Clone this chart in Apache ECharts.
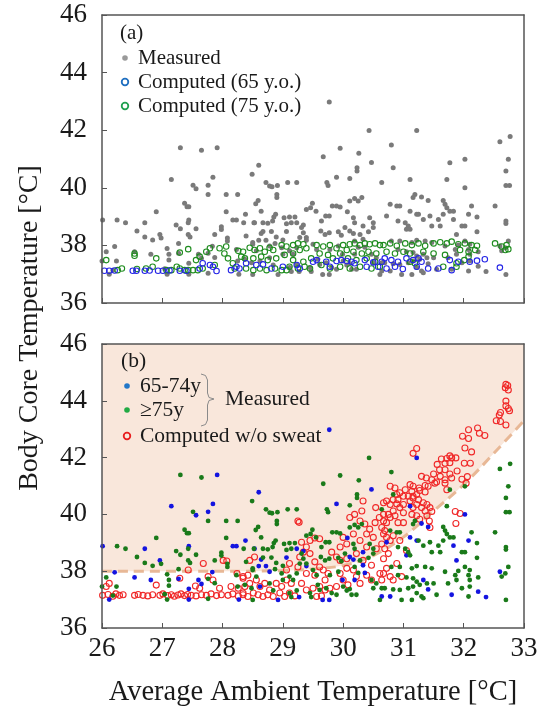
<!DOCTYPE html>
<html><head><meta charset="utf-8">
<script src="https://cdn.jsdelivr.net/npm/echarts@6/dist/echarts.min.js"></script>
<style>html,body{margin:0;padding:0;background:#fff}#c{width:549px;height:708px}</style>
</head><body><div id="c"></div>
<script>
// ---------------- data ----------------
const xRange = [26, 33];
const yRange = [36, 46];

// Measured, 65-74 years
const measured6574 = [
[27.91,41.39],[27.15,40.29],[27.56,39.97],[27.84,40.37],[27.76,40.09],[26.01,38.88],[26.71,38.79],[27.44,38.88],[28.17,38.88],[28.23,38.88],[26.96,38.38],[26.21,37.96],[26.54,37.78],[26.81,37.69],[27.27,37.73],[27.44,37.38],[27.60,37.69],[27.65,37.55],[27.83,37.97],[26.12,37.00],[27.44,37.00],[28.27,37.00],
[29.77,42.98],[30.47,40.88],[28.60,40.78],[29.89,40.37],[28.38,39.08],[28.53,38.79],[29.23,38.79],[30.07,39.17],[30.33,38.67],[28.64,38.41],[28.60,38.18],[28.72,38.18],[29.06,38.48],[29.34,38.71],[29.39,38.18],[30.11,38.50],[30.17,38.41],[30.33,38.21],[30.36,37.94],[29.99,37.69],[28.78,37.98],[28.62,37.46],[29.27,37.09],[29.66,36.99],[29.77,36.99],[30.19,37.69],[30.64,37.11],[28.92,36.99],
[31.22,41.99],[32.02,40.00],[31.11,40.29],[31.30,39.68],[31.41,39.56],[32.08,39.08],[31.83,38.90],[31.11,39.19],[31.22,39.08],[30.72,39.02],[31.05,38.56],[31.88,38.38],[32.60,37.98],[31.33,37.69],[31.41,37.36],[31.80,37.17],[32.24,37.28],[32.37,37.09],[30.78,37.11]
];

// Measured, >=75 years
const measured75 = [
[27.30,41.39],[27.65,41.30],[27.51,40.09],[27.76,39.77],[28.06,39.77],[28.25,39.77],[27.37,39.46],[27.41,39.34],[27.44,39.34],[26.90,39.17],[26.25,38.88],[26.39,38.79],[27.43,38.79],[28.06,39.17],[27.23,38.71],[27.30,38.58],[26.58,38.50],[26.71,38.29],[26.84,38.19],[26.98,38.26],[27.43,38.38],[27.46,38.29],[27.56,38.58],[27.87,38.38],[27.98,38.65],[27.98,38.55],[28.08,38.26],[28.08,38.15],[27.27,38.07],[26.07,37.78],[26.24,37.46],[27.08,37.89],[27.11,37.69],[27.11,37.49],[27.04,37.19],[27.76,37.73],[27.87,37.58],[28.23,37.86],[28.25,37.46],[26.00,37.46],[27.08,37.00],[27.76,37.03],[26.18,37.14],
[30.43,41.99],[29.95,41.37],[29.67,41.08],[30.26,41.20],[28.49,40.47],[28.72,40.18],[28.78,40.06],[28.82,40.04],[28.91,40.08],[29.08,40.18],[29.23,40.18],[28.90,39.77],[28.90,39.66],[29.73,40.18],[29.75,40.08],[29.49,39.46],[30.11,40.32],[30.23,40.70],[30.23,40.58],[28.59,39.56],[28.55,39.45],[28.64,39.19],[28.85,38.99],[28.88,39.08],[28.83,38.85],[28.35,38.79],[28.52,38.79],[28.67,38.79],[28.75,38.77],[28.67,38.48],[28.81,38.48],[29.02,38.96],[29.11,38.99],[29.20,38.99],[29.14,38.79],[29.06,38.75],[29.39,39.25],[29.46,39.31],[29.55,39.19],[29.82,39.37],[29.89,39.37],[29.95,39.33],[29.71,39.02],[29.77,39.02],[29.64,38.85],[30.11,39.54],[30.19,39.63],[30.25,39.54],[30.31,39.66],[30.17,38.96],[30.19,38.79],[30.44,38.96],[30.50,38.79],[28.39,38.33],[28.50,38.10],[28.89,38.29],[29.00,38.19],[28.87,38.07],[29.31,38.62],[29.34,38.44],[29.28,38.27],[29.39,38.27],[29.63,38.50],[29.70,38.38],[29.77,38.44],[29.92,38.47],[29.97,38.35],[30.03,38.62],[30.28,38.38],[30.42,38.47],[30.50,38.62],[30.19,38.15],[30.25,37.94],[29.92,37.98],[29.78,37.86],[29.50,38.04],[29.56,37.86],[29.23,37.92],[29.11,37.81],[29.17,37.69],[28.98,37.92],[29.00,37.69],[28.50,38.04],[28.56,37.81],[28.37,37.52],[28.48,37.40],[28.78,37.57],[28.84,37.32],[29.11,37.23],[29.14,37.09],[29.23,37.32],[29.45,37.23],[29.47,37.09],[29.58,37.52],[29.61,37.34],[29.72,37.40],[29.81,37.23],[29.89,37.17],[30.00,37.46],[30.06,37.32],[30.11,37.37],[30.14,37.17],[30.22,37.17],[30.47,37.69],[30.55,37.57],[30.50,37.40],[30.61,36.99],[28.50,36.99],
[30.80,41.49],[32.60,41.60],[32.77,41.78],[32.74,40.99],[32.70,40.58],[32.70,40.08],[32.76,40.08],[31.77,40.87],[32.02,40.99],[31.72,40.29],[31.19,39.77],[31.16,39.66],[30.64,40.18],[30.83,40.70],[31.66,39.56],[31.69,39.43],[31.72,39.31],[31.77,39.19],[31.83,39.19],[32.13,39.37],[32.52,39.37],[32.22,38.99],[32.70,38.85],[32.70,38.76],[31.97,38.67],[32.02,38.67],[31.25,39.08],[31.33,38.90],[31.44,39.02],[31.47,38.67],[31.58,38.90],[31.61,38.67],[31.66,39.08],[30.78,39.43],[30.89,39.37],[30.94,39.37],[30.91,38.85],[31.03,38.79],[31.08,38.67],[31.11,38.56],[32.22,38.47],[32.74,38.15],[32.69,37.92],[32.63,37.81],[30.80,38.15],[30.94,38.15],[31.14,38.10],[31.22,38.18],[31.36,38.15],[31.47,38.10],[31.69,37.98],[31.91,38.01],[32.02,38.15],[32.10,38.04],[31.16,37.75],[31.22,37.63],[31.27,37.52],[31.39,37.57],[31.50,37.57],[30.91,37.86],[31.05,37.78],[31.86,37.86],[31.88,37.69],[32.08,37.86],[32.10,37.69],[32.24,37.78],[31.74,37.57],[30.64,37.40],[30.69,37.40],[30.83,37.36],[30.94,37.34],[31.08,37.40],[31.16,37.46],[31.22,37.23],[31.30,37.11],[31.55,37.17],[31.97,37.40],[32.10,37.46],[30.97,36.99],[31.14,36.99],[31.33,37.05],[32.70,36.99],[32.08,37.11]
];

// Computed (65 y.o.)
const computed65 = [
[26.04,37.12],[26.12,37.12],[26.21,37.13],[26.51,37.12],[26.57,37.12],[26.71,37.12],[26.79,37.13],[26.93,37.12],[27.01,37.12],[27.12,37.13],[27.29,37.12],[27.40,37.12],[27.62,37.20],[27.67,37.38],[27.79,37.32],[27.84,37.26],[27.90,37.11],[28.14,37.14],[28.23,37.26],[28.28,37.20],
[28.39,37.38],[28.56,37.32],[28.67,37.34],[28.81,37.20],[29.00,37.26],[29.23,37.32],[29.28,37.20],[29.50,37.43],[29.56,37.49],[29.72,37.43],[29.78,37.26],[29.89,37.46],[29.97,37.49],[30.06,37.46],[30.14,37.43],[30.19,37.38],[30.36,37.49],[30.39,37.26],[30.50,37.41],[30.58,37.26],[30.64,37.43],
[30.69,37.55],[30.80,37.49],[30.91,37.43],[31.05,37.55],[31.16,37.49],[31.25,37.55],[31.30,37.43],[30.72,37.20],[30.86,37.26],[30.99,37.18],[31.22,37.26],[31.41,37.20],[31.58,37.20],[31.77,37.49],[31.80,37.14],[31.91,37.43],[32.10,37.43],[32.22,37.47],[32.35,37.52],[32.60,37.23]
];

// Computed (75 y.o.)
const computed75 = [
[26.07,37.49],[26.26,37.14],[26.33,37.20],[26.54,37.72],[26.54,37.64],[26.58,37.18],[26.73,37.20],[26.84,37.26],[26.90,37.55],[27.07,37.14],[27.15,37.14],[27.29,37.75],[27.24,37.26],[27.29,37.20],[27.37,37.14],[27.43,37.14],[27.43,37.87],[27.51,37.14],[27.56,37.49],[27.62,37.61],[27.73,37.78],[27.79,37.90],[27.59,37.14],[27.67,37.20],[27.87,37.32],[27.95,37.90],[28.06,37.96],[28.09,37.55],[28.03,37.72],[28.17,37.38],[28.26,37.81],[28.31,37.61],[28.20,37.20],
[28.34,37.78],[28.45,37.92],[28.53,37.84],[28.62,37.90],[28.70,37.78],[28.78,37.92],[28.84,37.84],[28.37,37.55],[28.51,37.55],[28.64,37.61],[28.75,37.49],[28.89,37.55],[28.39,37.20],[28.51,37.14],[28.62,37.20],[28.73,37.14],[28.87,37.20],[28.98,37.14],[29.06,37.14],[29.11,37.26],[28.98,38.01],[29.06,37.96],[29.17,38.01],[29.25,38.07],[29.34,38.04],[29.39,37.90],[29.17,37.72],[29.28,37.84],[29.03,37.67],[29.17,37.49],[29.34,37.43],[29.47,37.55],[29.25,37.20],[29.36,37.26],[29.45,37.20],[29.56,38.01],[29.67,37.96],[29.78,38.01],[29.89,37.90],[29.61,37.72],[29.75,37.67],[29.83,37.55],[29.95,37.72],[29.64,37.32],[29.78,37.20],[30.00,38.01],[30.11,38.04],[30.19,38.07],[30.28,38.01],[30.36,38.07],[30.44,38.04],[30.53,38.07],[30.61,38.01],[30.06,37.84],[30.17,37.78],[30.31,37.72],[30.42,37.78],[30.55,37.72],[30.08,37.55],[30.22,37.49],[30.39,37.55],[30.53,37.43],[29.95,37.26],[30.11,37.20],[30.28,37.26],[30.47,37.20],[30.61,37.26],
[30.67,38.01],[30.78,38.07],[30.89,37.99],[31.03,38.07],[31.14,38.01],[31.25,38.07],[31.36,37.99],[31.50,38.07],[31.61,38.11],[31.72,38.07],[31.80,38.13],[31.91,38.04],[32.02,38.07],[32.13,38.01],[32.22,37.99],[32.52,38.07],[32.63,37.96],[32.69,37.84],[32.74,37.87],[32.71,38.01],[30.72,37.78],[30.86,37.72],[31.00,37.78],[31.11,37.72],[31.33,37.78],[31.50,37.72],[31.69,37.67],[31.94,37.84],[32.08,37.78],[32.19,37.84],[32.08,37.61],[32.01,37.49],[31.88,37.38],[31.11,37.43],[31.19,37.38],[31.66,37.26],[31.88,37.26]
];

// Computed without sweating
const computedNoSweat = [
[26.01,37.15],[26.10,37.18],[26.18,37.12],[26.23,37.20],[26.29,37.15],[26.35,37.17],[26.54,37.15],[26.60,37.18],[26.68,37.15],[26.76,37.13],[26.84,37.17],[26.96,37.15],[27.01,37.20],[27.09,37.14],[27.15,37.17],[27.20,37.12],[27.26,37.16],[27.31,37.20],[27.37,37.14],[27.42,37.18],[27.48,37.15],[27.56,37.13],[27.65,37.17],[27.73,37.15],[27.81,37.20],[27.90,37.14],[27.98,37.17],[28.09,37.15],[28.17,37.20],[28.26,37.13],[28.34,37.17],
[26.07,37.46],[26.12,37.57],[26.90,37.51],[27.29,37.75],[27.55,37.48],[27.62,37.40],[27.76,37.81],[27.84,37.69],[27.95,37.40],[27.68,38.27],[27.43,38.04],[28.01,38.38],[28.07,38.36],[28.24,37.92],[28.34,37.81],[28.14,37.46],[28.26,37.40],
[29.25,39.77],[29.27,39.72],[28.34,37.75],[28.42,37.86],[28.37,37.46],[28.45,37.57],[28.53,38.50],[28.45,38.38],[28.56,37.69],[28.62,37.46],[28.70,37.57],[28.78,37.34],[28.34,37.23],[28.42,37.11],[28.51,37.23],[28.59,37.17],[28.67,37.11],[28.75,37.17],[28.84,37.11],[28.95,37.23],[29.03,37.11],[29.11,37.23],[29.20,37.13],[28.89,37.57],[28.98,37.46],[29.06,37.69],[29.14,37.57],[29.06,38.04],[29.11,38.27],[29.25,38.15],[29.28,38.50],[29.31,39.02],[29.39,38.85],[29.45,39.08],[29.53,39.17],[29.61,39.14],[29.34,38.67],[29.45,38.62],[29.53,38.33],[29.61,38.15],[29.39,37.92],[29.53,37.86],[29.67,38.04],[29.75,37.92],[29.70,37.69],[29.61,37.46],[29.50,37.40],[29.39,37.34],[29.31,37.57],[29.70,37.34],[29.78,37.40],[29.89,38.50],[29.95,38.38],[30.06,38.44],[29.81,38.67],[29.95,38.85],[30.06,38.96],[30.00,39.19],[30.17,39.31],[30.11,39.89],[30.19,40.00],[30.31,40.12],[30.33,40.47],[30.54,40.24],[30.28,39.77],[30.36,39.66],[30.44,39.48],[30.53,39.71],[30.60,39.89],[30.39,39.31],[30.50,39.19],[30.28,39.08],[30.39,38.85],[30.55,38.79],[30.22,38.62],[30.33,38.38],[30.47,38.21],[30.06,38.10],[30.17,38.04],[29.95,37.92],[30.00,37.69],[29.89,37.46],[30.08,37.52],[30.22,37.81],[30.39,37.86],[30.28,37.57],[30.47,37.69],[30.61,37.92],[29.56,37.11],[29.64,37.13],
[32.70,44.58],[32.73,44.54],[32.69,44.46],[32.74,44.38],[32.70,43.99],[32.70,43.82],[32.74,43.73],[32.76,43.65],[32.61,43.59],[32.59,43.50],[32.54,43.30],[32.61,43.27],[32.70,43.15],
[32.08,42.98],[32.23,43.04],[32.26,42.86],[32.35,42.78],[31.98,42.75],[32.08,42.67],[32.02,42.34],[32.13,42.20],[32.01,41.80],[32.11,41.80],[32.06,41.33],[31.97,41.24],[32.04,41.10],[31.69,41.10],[31.72,40.87],
[31.77,42.06],[31.80,41.99],[31.87,41.99],[31.72,41.97],[31.63,41.95],[31.56,41.76],[31.69,41.80],[31.77,41.82],[31.60,41.57],[31.69,41.57],[31.50,41.42],[31.77,41.42],[31.89,41.53],[31.61,41.34],[31.69,41.22],[31.55,41.14],[31.80,41.28],[31.22,42.32],[31.16,42.15],
[31.30,41.34],[31.38,41.28],[31.47,41.22],[31.52,41.10],[31.36,41.02],[31.41,40.99],[31.26,40.93],[31.16,40.99],[31.11,41.05],[31.03,40.87],[31.14,40.81],[31.27,40.84],[31.36,40.79],[31.22,40.70],[31.16,40.64],[31.08,40.64],[31.00,40.64],[30.94,40.76],[30.89,40.70],[30.86,40.93],[30.78,40.99],[30.83,40.52],[30.91,40.52],[30.72,40.47],[30.67,40.41],[30.78,40.35],[30.89,40.37],[31.00,40.35],[31.11,40.47],[31.16,40.58],[31.25,40.52],[31.33,40.41],[31.22,40.35],[31.30,40.24],[31.36,40.12],[31.47,40.10],[31.44,40.24],[31.39,40.35],[30.94,40.24],[30.83,40.12],[30.75,40.00],[30.86,39.95],[30.67,40.00],[30.78,39.89],[30.72,39.71],[30.91,39.71],[31.00,39.71],[31.00,40.06],[31.14,40.00],[31.22,39.95],[31.27,39.83],[31.39,39.95],[31.16,40.24],
[31.86,40.10],[31.94,40.03],[31.87,39.68],[31.43,39.77],[31.44,39.54],
[30.67,39.77],[30.64,39.54],[30.69,39.43],[30.67,39.31],[30.72,39.19],[30.78,39.08],[30.83,39.25],[30.64,38.96],[30.69,38.79],[30.75,38.62],[30.67,38.44],[30.94,39.08],[31.05,38.73],[30.89,38.27],[30.72,38.10],[30.67,37.92],[30.78,37.81],[30.97,37.81],[30.64,37.69],[30.83,37.69]
];

// Threshold curve (boundary of shaded zone in panel b)
const boundaryX = [26, 28, 29, 29.5, 30, 30.5, 31, 31.5, 32, 32.5, 33];
const boundaryY = [38, 38, 38.02, 38.08, 38.2, 38.55, 39.2, 40.12, 41.05, 42.15, 43.3];

// ---------------- chart ----------------
const FONT = '"Liberation Serif","Times New Roman",serif';
const AX = '#555';
const chart = echarts.init(document.getElementById('c'), null, {renderer: 'canvas'});

const grids = [
  {left: 102, right: 25, top: 15, height: 288, show: true, borderWidth: 0, backgroundColor: 'transparent'},
  {left: 102, right: 25, top: 344, height: 288, show: true, borderWidth: 0, backgroundColor: '#f9e7db'}
];

function xAxisMain(gi, labels) {
  return {
    type: 'value', gridIndex: gi, position: 'bottom', min: xRange[0], max: xRange[1], interval: 1, z: 10,
    axisLine: {show: true, onZero: false, lineStyle: {color: AX, width: 1.5}},
    axisTick: {show: true, inside: true, length: 5, lineStyle: {color: AX}},
    axisLabel: {show: labels, fontFamily: FONT, fontSize: 27, color: '#1a1a1a', margin: 7},
    splitLine: {show: false},
    name: labels ? 'Average Ambient Temperature [°C]' : '',
    nameLocation: 'middle', nameGap: 50,
    nameTextStyle: {fontFamily: FONT, fontSize: 28.5, color: '#1a1a1a'}
  };
}
function xAxisTop(gi) {
  return {
    type: 'value', gridIndex: gi, position: 'top', min: xRange[0], max: xRange[1], z: 10,
    axisLine: {show: true, onZero: false, lineStyle: {color: AX, width: 1.5}},
    axisTick: {show: false}, axisLabel: {show: false}, splitLine: {show: false}
  };
}
function yAxisMain(gi) {
  return {
    type: 'value', gridIndex: gi, position: 'left', min: yRange[0], max: yRange[1], interval: 2, z: 10,
    axisLine: {show: true, onZero: false, lineStyle: {color: AX, width: 1.5}},
    axisTick: {show: true, inside: true, length: 5, lineStyle: {color: AX}},
    axisLabel: {fontFamily: FONT, fontSize: 27, color: '#1a1a1a', margin: 15},
    splitLine: {show: false}
  };
}
function yAxisRight(gi) {
  return {
    type: 'value', gridIndex: gi, position: 'right', min: yRange[0], max: yRange[1], z: 10,
    axisLine: {show: true, onZero: false, lineStyle: {color: AX, width: 1.5}},
    axisTick: {show: false}, axisLabel: {show: false}, splitLine: {show: false}
  };
}

function openCircle(name, data, xi, yi, color, size, bw, z) {
  return {
    name, type: 'scatter', xAxisIndex: xi, yAxisIndex: yi, data,
    symbol: 'circle', symbolSize: size, z: z, silent: true,
    itemStyle: {color: 'rgba(255,255,255,0)', borderColor: color, borderWidth: bw, opacity: 1}
  };
}
function dots(name, data, xi, yi, color, size, z) {
  return {
    name, type: 'scatter', xAxisIndex: xi, yAxisIndex: yi, data,
    symbol: 'circle', symbolSize: size, z: z, silent: true,
    itemStyle: {color: color, opacity: 1}
  };
}

const measuredAll = measured6574.concat(measured75);
const boundary = boundaryX.map((x, i) => [x, boundaryY[i]]);

const legendText = (x, y, t, size) => ({
  type: 'text', x, y, z: 50, silent: true,
  style: {text: t, fill: '#1a1a1a', font: (size || 21) + 'px ' + FONT,
          textAlign: 'left', textVerticalAlign: 'middle'}
});
const legendDot = (cx, cy, color) => ({
  type: 'circle', z: 50, silent: true, shape: {cx, cy, r: 2.8}, style: {fill: color}
});
const legendRing = (cx, cy, color) => ({
  type: 'circle', z: 50, silent: true, shape: {cx, cy, r: 3.3}, style: {fill: 'none', stroke: color, lineWidth: 1.8}
});

const option = {
  animation: false,
  backgroundColor: '#ffffff',
  grid: grids,
  xAxis: [xAxisMain(0, false), xAxisTop(0), xAxisMain(1, true), xAxisTop(1)],
  yAxis: [yAxisMain(0), yAxisRight(0), yAxisMain(1), yAxisRight(1)],
  series: [
    dots('Measured', measuredAll, 0, 0, '#7a7a7a', 5, 2),
    openCircle('Computed (75 y.o.)', computed75, 0, 0, '#1e8c1e', 5.5, 1.1, 3),
    openCircle('Computed (65 y.o.)', computed65, 0, 0, '#2424e6', 5.5, 1.1, 4),
    {
      name: 'threshold', type: 'line', xAxisIndex: 2, yAxisIndex: 2, data: boundary,
      smooth: 0.35, symbol: 'none', z: 1, silent: true,
      lineStyle: {color: '#e8b896', width: 3, type: [10, 6]},
      areaStyle: {color: '#ffffff', opacity: 1, origin: 'start'}
    },
    openCircle('Computed w/o sweat', computedNoSweat, 2, 2, '#f02828', 6, 1.1, 3),
    dots('65-74y', measured6574, 2, 2, '#1414e0', 4.8, 4),
    dots('≥75y', measured75, 2, 2, '#1a7a1a', 4.8, 4)
  ],
  graphic: [
    legendText(120, 33, '(a)'),
    legendDot(125, 58, '#9a9a9a'), legendText(138, 58, 'Measured'),
    legendRing(125, 82, '#1f6fc0'), legendText(138, 82, 'Computed (65 y.o.)'),
    legendRing(125, 106, '#20a050'), legendText(138, 106, 'Computed (75 y.o.)'),
    legendText(121, 361, '(b)', 21.5),
    legendDot(127, 386, '#2277c8'), legendText(140, 386, '65-74y', 21.5),
    legendDot(127, 410, '#22aa44'), legendText(140, 410, '≥75y', 21.5),
    legendRing(127, 436, '#e81e1e'), legendText(140, 436, 'Computed w/o sweat', 21.5),
    {type: 'polyline', z: 50, silent: true,
     shape: {points: [[201,374],[205.5,375.5],[207.5,380],[207.5,393],[209,397.5],[214,399],[209,400.5],[207.5,405],[207.5,420],[205.5,424.5],[201,426]]},
     style: {fill: 'none', stroke: '#8a8a8a', lineWidth: 1}},
    legendText(225, 399, 'Measured', 21.5),
    {type: 'text', x: 30, y: 328, rotation: Math.PI / 2, z: 50, silent: true,
     style: {text: 'Body Core Temperature [°C]', fill: '#1a1a1a', font: '28px ' + FONT,
             textAlign: 'center', textVerticalAlign: 'middle'}}
  ]
};
chart.setOption(option);
</script>
</body></html>
